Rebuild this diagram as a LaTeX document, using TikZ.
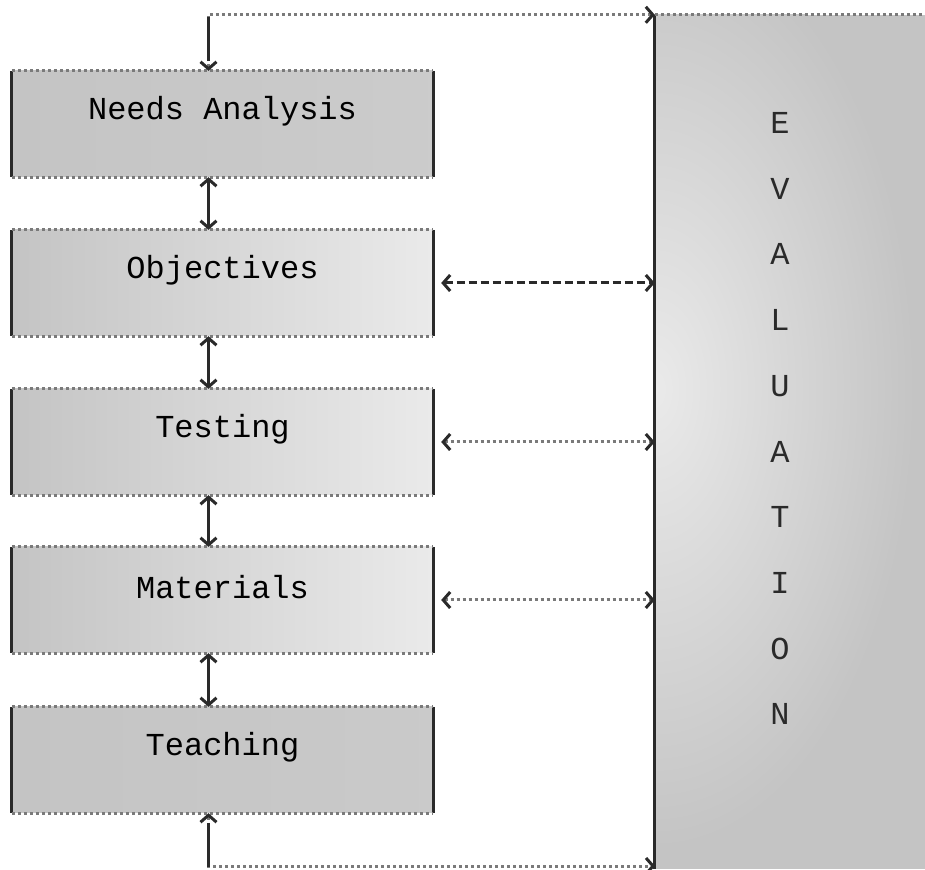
\documentclass[tikz,border=0pt]{standalone}
\usepackage{fontspec}
\setmonofont{Liberation Mono}
\usetikzlibrary{arrows.meta}

\definecolor{edgecol}{HTML}{2A2A2A}
\definecolor{dotcol}{HTML}{7A7A7A}
\definecolor{boxdark}{HTML}{C4C4C4}
\definecolor{boxlight}{HTML}{EAEAEA}

\tikzset{
  stagebox/.style={minimum width=421pt, minimum height=106pt, inner sep=0pt,
    left color=boxdark, right color=boxlight},
  stagetext/.style={font=\ttfamily\fontsize{32}{32}\selectfont, yshift=13pt},
  sideline/.style={edgecol, line width=3pt},
  dotline/.style={dotcol, line width=3pt, dash pattern=on 3pt off 3pt},
  link/.style={edgecol, line width=3pt},
  dotlink/.style={dotcol, line width=3pt, dash pattern=on 3pt off 3pt},
  dashlink/.style={edgecol, line width=3pt, dash pattern=on 8pt off 4pt},
  evletter/.style={font=\ttfamily\fontsize{32}{32}\selectfont, text=edgecol},
}

\begin{document}
\begin{tikzpicture}[x=1pt, y=1pt, >={Straight Barb[length=7pt,width=16pt,color=edgecol]}]
  \useasboundingbox (0,0) rectangle (925,869);

  % evaluation column
  \node[minimum width=270pt, minimum height=854pt, inner sep=0pt, fill=boxdark] (eval) at (790,427) {};
  \begin{scope}
    \clip (eval.south west) rectangle (eval.north east);
    \shade[inner color=boxlight, outer color=boxdark] (655,480) ellipse (260pt and 460pt);
  \end{scope}
  \draw[sideline] (eval.north west) -- (eval.south west);
  \draw[dotline] (eval.north west) -- (eval.north east);
  \foreach \l [count=\i] in {E,V,A,L,U,A,T,I,O,N}
    \node[evletter] (ev\i) at (780, 746-65.7*\i+65.7) {\l};

  % stages
  \node[stagebox, right color=boxdark!80!boxlight, label={[stagetext]center:Needs Analysis}] (needs) at (222.5,745) {};
  \node[stagebox, label={[stagetext]center:Objectives}] (obj) at (222.5,586) {};
  \node[stagebox, label={[stagetext]center:Testing}] (test) at (222.5,427) {};
  \node[stagebox, label={[stagetext]center:Materials}] (mat) at (222.5,269) {};
  \node[stagebox, right color=boxdark!85!boxlight, label={[stagetext]center:Teaching}] (teach) at (222.5,109) {};

  \foreach \n in {needs,obj,test,mat,teach}{
    \draw[sideline] (\n.north west) -- (\n.south west) (\n.north east) -- (\n.south east);
    \draw[dotline] (\n.north west) -- (\n.north east) (\n.south west) -- (\n.south east);
  }

  % links between stages
  \draw[link, <->] ([xshift=-14pt]needs.south) -- ([xshift=-14pt]obj.north);
  \draw[link, <->] ([xshift=-14pt]obj.south) -- ([xshift=-14pt]test.north);
  \draw[link, <->] ([xshift=-14pt]test.south) -- ([xshift=-14pt]mat.north);
  \draw[link, <->] ([xshift=-14pt]mat.south) -- ([xshift=-14pt]teach.north);

  % links to evaluation
  \draw[dashlink, <->] ([xshift=8pt]obj.east) -- (obj.east -| eval.west);
  \draw[dotlink, <->] ([xshift=8pt]test.east) -- (test.east -| eval.west);
  \draw[dotlink, <->] ([xshift=8pt]mat.east) -- (mat.east -| eval.west);

  \coordinate (evbot) at (655,3);
  \draw[dotlink, <->] ([xshift=-14pt]needs.north) |- (eval.north west);
  \draw[dotlink, <->] ([xshift=-14pt]teach.south) |- (evbot);
  \draw[link] ([xshift=-14pt]needs.north) ++(0,10) -- ++(0,44);
  \draw[link] ([xshift=-14pt]teach.south) ++(0,-10) -- ++(0,-44);
\end{tikzpicture}
\end{document}
